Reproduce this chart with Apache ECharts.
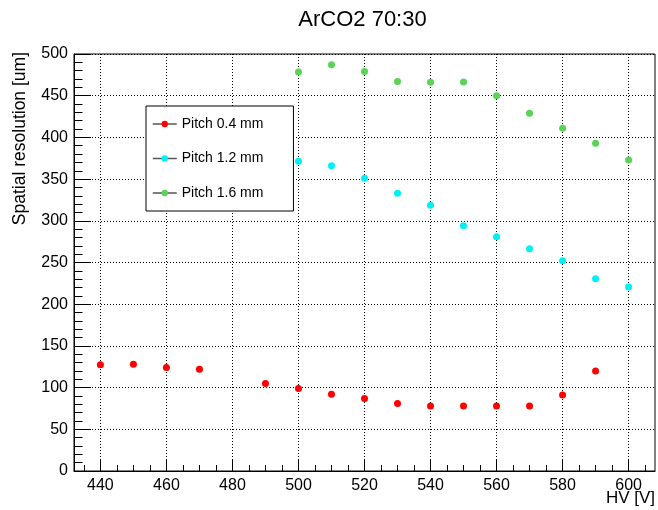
<!DOCTYPE html>
<html>
<head>
<meta charset="utf-8">
<script src="https://cdn.jsdelivr.net/npm/echarts@6/dist/echarts.min.js"></script>
<style>
  html, body { margin: 0; padding: 0; background: #fff; }
  #chart { width: 658px; height: 510px; }
</style>
</head>
<body>
<div id="chart"></div>
<script>
// HV scan: spatial resolution vs high voltage for three strip pitches
const hvPitch04 = [440, 450, 460, 470, 490, 500, 510, 520, 530, 540, 550, 560, 570, 580, 590];
const resPitch04 = [127.5, 128, 124, 122, 105, 99, 92, 87, 81, 78, 78, 78, 78, 91, 120];

const hvPitch12 = [500, 510, 520, 530, 540, 550, 560, 570, 580, 590, 600];
const resPitch12 = [371.5, 366, 351, 333, 318.5, 294, 281, 266.5, 252, 230.5, 220.5];

const hvPitch16 = [500, 510, 520, 530, 540, 550, 560, 570, 580, 590, 600];
const resPitch16 = [478.5, 487, 479, 467, 466, 466.5, 450, 429, 411, 393, 373];

const xMajorTicks = [440, 460, 480, 500, 520, 540, 560, 580, 600];
const xMinorTicks = [435, 445, 450, 455, 465, 470, 475, 485, 490, 495, 505, 510, 515,
  525, 530, 535, 545, 550, 555, 565, 570, 575, 585, 590, 595, 605];

const seriesNames = ['Pitch 0.4 mm', 'Pitch 1.2 mm', 'Pitch 1.6 mm'];
const seriesColors = ['#ff0000', '#00f0f8', '#59d454'];

const FONT = 'Liberation Sans, Arial, Helvetica, sans-serif';

function pairs(xs, ys) {
  return xs.map((x, i) => [x, ys[i]]);
}

const chart = echarts.init(document.getElementById('chart'), null, { renderer: 'canvas' });

const dotted = { color: '#000', width: 1, type: [1, 2] };
const tickLine = { color: '#000', width: 1 };

const option = {
  backgroundColor: '#fff',
  animation: false,
  textStyle: { fontFamily: FONT },
  grid: {
    left: 74, right: 3, top: 54, bottom: 39,
    outerBoundsMode: 'none',
    containLabel: false,
    show: true, borderColor: '#000', borderWidth: 1, backgroundColor: 'transparent'
  },
  xAxis: [
    {
      type: 'value', min: 432, max: 608,
      axisLine: { show: true, onZero: false, lineStyle: { color: '#000', width: 1 } },
      axisTick: { show: true, inside: true, length: 12, customValues: xMajorTicks,
        lineStyle: tickLine },
      axisLabel: { show: true, customValues: xMajorTicks, color: '#000', fontSize: 16,
        fontFamily: FONT, margin: 7 },
      splitLine: { show: true, lineStyle: dotted }
    },
    {
      // minor ticks every 5 V
      type: 'value', min: 432, max: 608, position: 'bottom',
      axisLine: { show: false, onZero: false },
      axisTick: { show: true, inside: true, length: 6, customValues: xMinorTicks,
        lineStyle: tickLine },
      axisLabel: { show: false },
      splitLine: { show: false }
    }
  ],
  yAxis: {
    type: 'value', min: 0, max: 500, interval: 50,
    axisLine: { show: true, onZero: false, lineStyle: { color: '#000', width: 1 } },
    axisTick: { show: true, inside: true, length: 17, lineStyle: tickLine },
    minorTick: { show: true, splitNumber: 5, length: 8.5, lineStyle: tickLine },
    axisLabel: { color: '#000', fontSize: 16, fontFamily: FONT, margin: 6 },
    splitLine: { show: true, lineStyle: dotted }
  },
  legend: {
    orient: 'vertical',
    left: 146, top: 106,
    padding: [11, 30, 11, 6],
    itemGap: 20.5,
    itemWidth: 24, itemHeight: 8,
    backgroundColor: '#fff',
    borderColor: '#000', borderWidth: 1, borderRadius: 0,
    textStyle: { color: '#000', fontSize: 14, fontFamily: FONT },
    lineStyle: { color: '#555', width: 1.5, opacity: 1 },
    data: seriesNames
  },
  graphic: [
    {
      type: 'text', x: 362.5, y: 20,
      style: { text: 'ArCO2 70:30', fill: '#000', font: '22px ' + FONT,
        align: 'center', verticalAlign: 'middle' }
    },
    {
      type: 'text', x: 20, y: 52, rotation: Math.PI / 2,
      style: { text: 'Spatial resolution [um]', fill: '#000', font: '17.5px ' + FONT,
        align: 'right', verticalAlign: 'middle' }
    },
    {
      type: 'text', x: 655, y: 490,
      style: { text: 'HV [V]', fill: '#000', font: '17px ' + FONT,
        align: 'right', verticalAlign: 'top' }
    }
  ],
  series: [
    [hvPitch04, resPitch04],
    [hvPitch12, resPitch12],
    [hvPitch16, resPitch16]
  ].map(([xs, ys], i) => ({
    name: seriesNames[i],
    type: 'line',
    xAxisIndex: 0,
    data: pairs(xs, ys),
    symbol: 'circle',
    symbolSize: 7,
    showSymbol: true,
    itemStyle: { color: seriesColors[i] },
    lineStyle: { width: 0, opacity: 0 },
    emphasis: { disabled: true }
  }))
};

chart.setOption(option);
</script>
</body>
</html>
